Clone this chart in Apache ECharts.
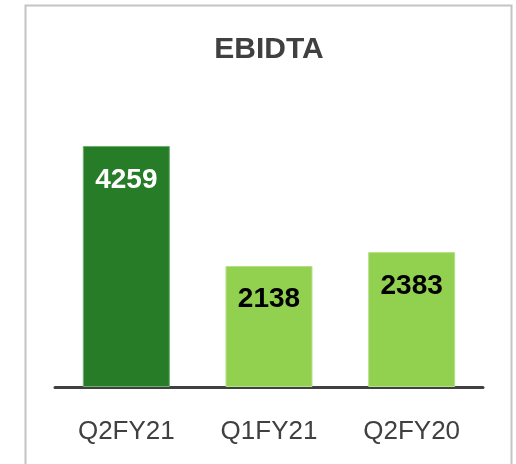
<!DOCTYPE html>
<html>
<head>
<meta charset="utf-8">
<script src="https://cdn.jsdelivr.net/npm/echarts@6/dist/echarts.min.js"></script>
<style>
  html, body { margin: 0; padding: 0; background: #fff; }
  #chart { width: 516px; height: 464px; }
</style>
</head>
<body>
<div id="chart"></div>
<script>
// chart data
var categories = ['Q2FY21', 'Q1FY21', 'Q2FY20'];
var values = [4259, 2138, 2383];
var barColors = ['#267c27', '#92d050', '#92d050'];
var labelColors = ['#ffffff', '#000000', '#000000'];
var titleText = 'EBIDTA';

var chart = echarts.init(document.getElementById('chart'));

var seriesData = values.map(function (v, i) {
  return {
    value: v,
    itemStyle: { color: barColors[i], borderColor: i == 0 ? '#6fae6f' : '#b5e08a', borderWidth: 1 },
    label: { color: labelColors[i], offset: [0, i == 2 ? 15 : (i == 1 ? 14 : 15)] }
  };
});

chart.setOption({
  animation: false,
  graphic: [{
    type: 'rect',
    shape: { x: 25.5, y: 5.5, width: 486, height: 470 },
    style: { fill: 'none', stroke: '#c4c4c4', lineWidth: 2 },
    silent: true
  }, {
    type: 'text',
    x: 269,
    y: 50,
    style: {
      text: titleText,
      fill: '#404040',
      font: 'bold 30px "Liberation Sans"',
      textAlign: 'center',
      textVerticalAlign: 'middle'
    },
    silent: true
  }],
  grid: { left: 55, right: 33, top: 104, bottom: 77 },
  xAxis: {
    type: 'category',
    data: categories,
    axisLine: { lineStyle: { color: '#404040', width: 3 } },
    axisTick: { show: false },
    axisLabel: { fontFamily: 'Liberation Sans', fontSize: 26, color: '#404040', margin: 32 }
  },
  yAxis: {
    type: 'value',
    min: 0,
    max: 5000,
    show: false,
    splitLine: { show: false }
  },
  series: [{
    type: 'bar',
    data: seriesData,
    barWidth: '61%',
    label: {
      show: true,
      position: 'insideTop',
      fontFamily: 'Liberation Sans',
      fontSize: 28,
      fontWeight: 'bold'
    }
  }]
});
</script>
</body>
</html>
